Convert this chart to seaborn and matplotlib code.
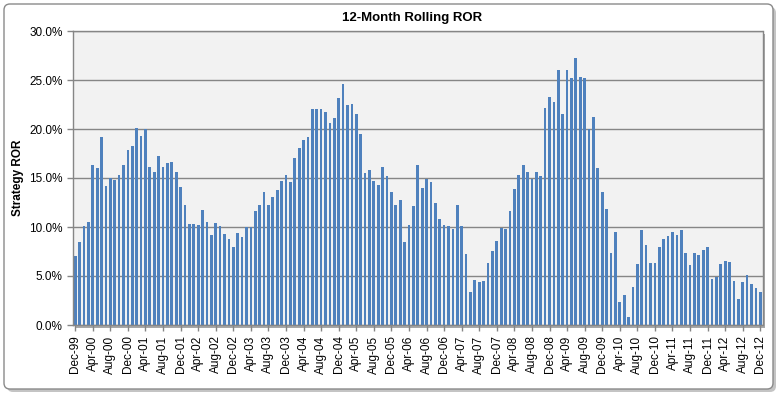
import numpy as np
import pandas as pd
import matplotlib
matplotlib.use('Agg')
import matplotlib.pyplot as plt
import seaborn as sns
from matplotlib.patches import FancyBboxPatch, Rectangle
from matplotlib.ticker import PercentFormatter


# monthly categories Dec-99 .. Dec-12
months = pd.date_range('1999-12-01', '2012-12-01', freq='MS').strftime('%b-%y').tolist()
tick_labels = months[::4]

# 12-month rolling ROR in %
ror = [
    7.0, 8.5, 10.1, 10.5, 16.3, 16.0, 19.2, 14.2, 15.0, 14.8, 15.3, 16.3, 17.9,
    18.3, 20.1, 19.3, 20.0, 16.1, 15.6, 17.2, 16.1, 16.5, 16.6, 15.6, 14.1,
    12.2, 10.3, 10.3, 10.2, 11.7, 10.5, 9.2, 10.4, 10.1, 9.3, 8.8, 8.0,
    9.4, 9.0, 10.0, 10.0, 11.6, 12.2, 13.6, 12.2, 13.1, 13.8, 14.7, 15.3,
    14.6, 17.0, 18.1, 18.9, 19.2, 22.0, 22.0, 22.0, 21.7, 20.6, 21.1, 23.2,
    24.6, 22.4, 22.6, 21.5, 19.5, 15.5, 15.8, 14.7, 14.3, 16.1, 15.2, 13.6,
    12.2, 12.8, 8.5, 10.2, 12.1, 16.3, 14.0, 14.9, 14.6, 12.4, 10.8, 10.2,
    10.1, 9.8, 12.2, 10.1, 7.2, 3.4, 4.6, 4.4, 4.5, 6.3, 7.6, 8.6, 9.9,
    9.8, 11.6, 13.9, 15.3, 16.3, 15.6, 14.9, 15.6, 15.2, 22.1, 23.3, 22.8,
    26.0, 21.5, 26.0, 25.2, 27.2, 25.3, 25.2, 20.0, 21.2, 16.0, 13.6, 11.8,
    7.3, 9.5, 2.3, 3.1, 0.8, 3.9, 6.2, 9.7, 8.2, 6.3, 6.3, 8.0, 8.8,
    9.1, 9.5, 9.2, 9.7, 7.3, 6.1, 7.3, 7.1, 7.7, 8.0, 4.7, 4.9, 6.2,
    6.5, 6.4, 4.5, 2.7, 4.4, 5.1, 4.2, 3.8, 3.4,
]

df = pd.DataFrame({'Month': months, 'ROR': np.array(ror) / 100})

plt.rcParams['font.family'] = ['Liberation Sans', 'DejaVu Sans']

W, H = 782, 398
fig = plt.figure(figsize=(W / 100, H / 100), dpi=100)

# outer chart frame with shadow (pixel coords)
fig.add_artist(FancyBboxPatch((7, 6), 769, 385, boxstyle='round,pad=0,rounding_size=6',
                              transform=None, fc='#c4c4c4', ec='none', zorder=-3))
fig.add_artist(FancyBboxPatch((4, 9), 769, 385, boxstyle='round,pad=0,rounding_size=6',
                              transform=None, fc='white', ec='#8a8a8a', lw=1, zorder=-2))

left, right, top, bottom = 73, 762.5, 31, 325
ax = fig.add_axes([left / W, 1 - bottom / H, (right - left) / W, (bottom - top) / H])
# plot area shadow
fig.add_artist(Rectangle((left + 2.5, H - bottom - 2.5), right - left, bottom - top,
                         transform=None, fc='#a8a8a8', ec='none', zorder=-1))

sns.barplot(data=df, x='Month', y='ROR', color='#4F81BD', saturation=1,
            width=0.62, linewidth=0, ax=ax)

ax.set_facecolor('#F2F2F2')
for s in ax.spines.values():
    s.set_color('#868686')
    s.set_linewidth(1)
ax.yaxis.grid(True, color='#868686', lw=1)
ax.xaxis.grid(False)
ax.set_axisbelow(True)

ax.set_xlim(-0.5, len(months) - 0.5)
ax.set_ylim(0, 0.30)
ax.set_yticks(np.arange(0, 0.301, 0.05))
ax.yaxis.set_major_formatter(PercentFormatter(1.0, decimals=1))
ax.set_xticks(range(0, len(months), 4))
ax.set_xticklabels(tick_labels, rotation=90)
ax.tick_params(axis='both', labelsize=8.5, colors='#868686', labelcolor='black',
               length=4, width=1)
ax.set_xlabel('')
ax.set_ylabel('')

fig.text(412 / W, 1 - 18 / H, '12-Month Rolling ROR', ha='center', va='center',
         fontsize=9.5, fontweight='bold')
fig.text(18 / W, 1 - 178 / H, 'Strategy ROR', ha='center', va='center',
         rotation=90, fontsize=8.5, fontweight='bold')

fig.savefig('out.png', dpi=100)
